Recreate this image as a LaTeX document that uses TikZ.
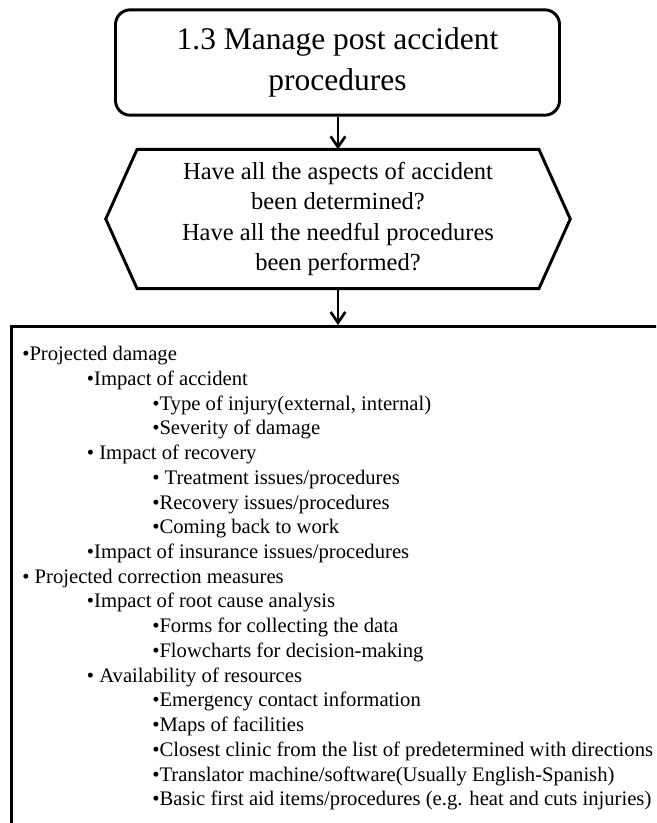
\documentclass[tikz,border=0pt]{standalone}
\usepackage{fontspec}
\setmainfont{Liberation Serif}
\usetikzlibrary{arrows.meta}

\begin{document}
\begin{tikzpicture}[x=0.75pt, y=-0.75pt,
	box/.style={draw, line width=2.2pt, inner sep=0pt},
	flow/.style={-{Straight Barb[length=8pt, width=11pt, line width=2pt]}, line width=2pt}]
	\clip (0,0) rectangle (656,823);
	\node at (337.5,62.5) [box, rounded corners=11pt, minimum width=333pt, minimum height=79pt, align=center, font={\fontsize{23.6}{30.5}\selectfont}] (task) {1.3 Manage post accident\\procedures};
	\node at (338,219) [inner sep=0pt, minimum width=301pt, minimum height=104pt, align=center, font={\fontsize{18.4}{22.8}\selectfont}] (check) {Have all the aspects of accident\\been determined?\\Have all the needful procedures\\been performed?};
	\node at (10,325) [box, anchor=north west, minimum width=700pt, minimum height=420pt] (items) {};
	\node at (22,346) [anchor=north west, inner sep=0pt, align=left, font={\fontsize{15.5}{18.55}\selectfont}] (list) {%
•Projected damage\\
\hspace*{48.5pt}•Impact of accident\\
\hspace*{97.5pt}•Type of injury(external, internal)\\
\hspace*{97.5pt}•Severity of damage\\
\hspace*{48.5pt}• Impact of recovery\\
\hspace*{97.5pt}• Treatment issues/procedures\\
\hspace*{97.5pt}•Recovery issues/procedures\\
\hspace*{97.5pt}•Coming back to work\\
\hspace*{48.5pt}•Impact of insurance issues/procedures\\
• Projected correction measures\\
\hspace*{48.5pt}•Impact of root cause analysis\\
\hspace*{97.5pt}•Forms for collecting the data\\
\hspace*{97.5pt}•Flowcharts for decision-making\\
\hspace*{48.5pt}• Availability of resources\\
\hspace*{97.5pt}•Emergency contact information\\
\hspace*{97.5pt}•Maps of facilities\\
\hspace*{97.5pt}•Closest clinic from the list of predetermined with directions\\
\hspace*{97.5pt}•Translator machine/software(Usually English-Spanish)\\
\hspace*{97.5pt}•Basic first aid items/procedures (e.g. heat and cuts injuries)};

	\draw [line width=2.2pt, line join=miter] (check.north west) -- (check.north east) -- ([xshift=23.5pt]check.east) -- (check.south east) -- (check.south west) -- ([xshift=-23.5pt]check.west) -- cycle;

	\draw [flow] (check.north |- task.south) -- (check.north);
	\draw [flow] (check.south) -- (check.south |- items.north);
\end{tikzpicture}
\end{document}
